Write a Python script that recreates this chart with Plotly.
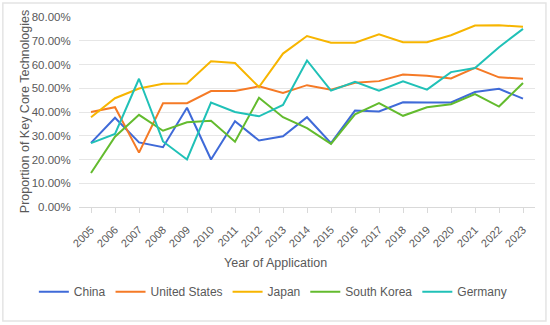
import plotly.graph_objects as go

years = [str(y) for y in range(2005, 2024)]
china = [27.0, 37.6, 27.2, 25.2, 41.8, 20.0, 36.1, 28.0, 29.8, 37.8, 26.9, 40.6, 40.2, 44.1, 44.0, 44.0, 48.4, 49.8, 45.6]
usa = [40.0, 42.0, 22.9, 43.7, 43.7, 48.8, 48.8, 50.8, 48.0, 51.3, 49.4, 52.3, 53.0, 55.8, 55.3, 54.1, 58.6, 54.6, 54.0]
japan = [37.8, 45.8, 49.9, 51.9, 52.0, 61.4, 60.6, 50.5, 64.6, 72.0, 69.2, 69.2, 72.7, 69.4, 69.4, 72.3, 76.4, 76.5, 75.9]
korea = [14.3, 29.6, 38.8, 32.1, 35.7, 36.3, 27.5, 46.0, 37.8, 33.2, 26.6, 39.0, 43.7, 38.4, 42.0, 43.3, 47.5, 42.3, 52.2]
germany = [26.9, 30.8, 54.0, 27.6, 20.0, 44.0, 40.0, 38.2, 43.0, 61.7, 49.0, 52.7, 49.0, 52.9, 49.4, 56.8, 58.5, 67.3, 75.0]

series = [
    ("China", china, "#3f6ad8"),
    ("United States", usa, "#f57a26"),
    ("Japan", japan, "#f7b500"),
    ("South Korea", korea, "#63bb2e"),
    ("Germany", germany, "#20c1b7"),
]

fig = go.Figure()
for name, vals, col in series:
    fig.add_trace(go.Scatter(x=years, y=[v / 100 for v in vals], name=name, mode="lines",
                             line=dict(color=col, width=2)))

font = "Liberation Sans, Arial, sans-serif"
fig.update_layout(
    width=550, height=325,
    margin=dict(l=79, r=15, t=17, b=118, autoexpand=False),
    paper_bgcolor="white", plot_bgcolor="white",
    font=dict(family=font, color="#595959", size=12),
    showlegend=True,
    legend=dict(orientation="h", x=-0.099, xanchor="left", y=-0.37, yanchor="top",
                font=dict(size=12, color="#595959"), tracegroupgap=0),
    xaxis=dict(type="category", tickangle=-45, tickfont=dict(size=11), automargin=False,
               showgrid=False, showline=True, linecolor="#d9d9d9", ticklabelstandoff=6,
               ticks="outside", tickcolor="#d9d9d9", ticklen=5, range=[-0.5, 18.5]),
    yaxis=dict(range=[0, 0.8], dtick=0.1, tickformat=".2%", tickfont=dict(size=11.5),
               automargin=False, ticks="outside", ticklen=5, tickcolor="rgba(0,0,0,0)",
               showgrid=True, gridcolor="#e6e6e6", zeroline=False, showline=False),
    annotations=[
        dict(text="Year of Application", xref="paper", yref="paper",
             x=0.432, y=-0.295, xanchor="center", yanchor="middle", showarrow=False,
             font=dict(size=12.5, color="#595959")),
        dict(text="Proportion of Key Core Technologies", xref="paper", yref="paper",
             x=-0.118, y=0.5, xanchor="center", yanchor="middle", textangle=-90, showarrow=False,
             font=dict(size=12.5, color="#595959")),
    ],
    shapes=[dict(type="rect", xref="paper", yref="paper", x0=-0.167, x1=1.024, y0=-0.6, y1=1.074,
                 line=dict(color="#e4e4e4", width=1.5), fillcolor="rgba(0,0,0,0)", layer="below")],
)
fig.write_html("out.html", config={"displayModeBar": False},
               post_script="document.body.style.margin='0';")
